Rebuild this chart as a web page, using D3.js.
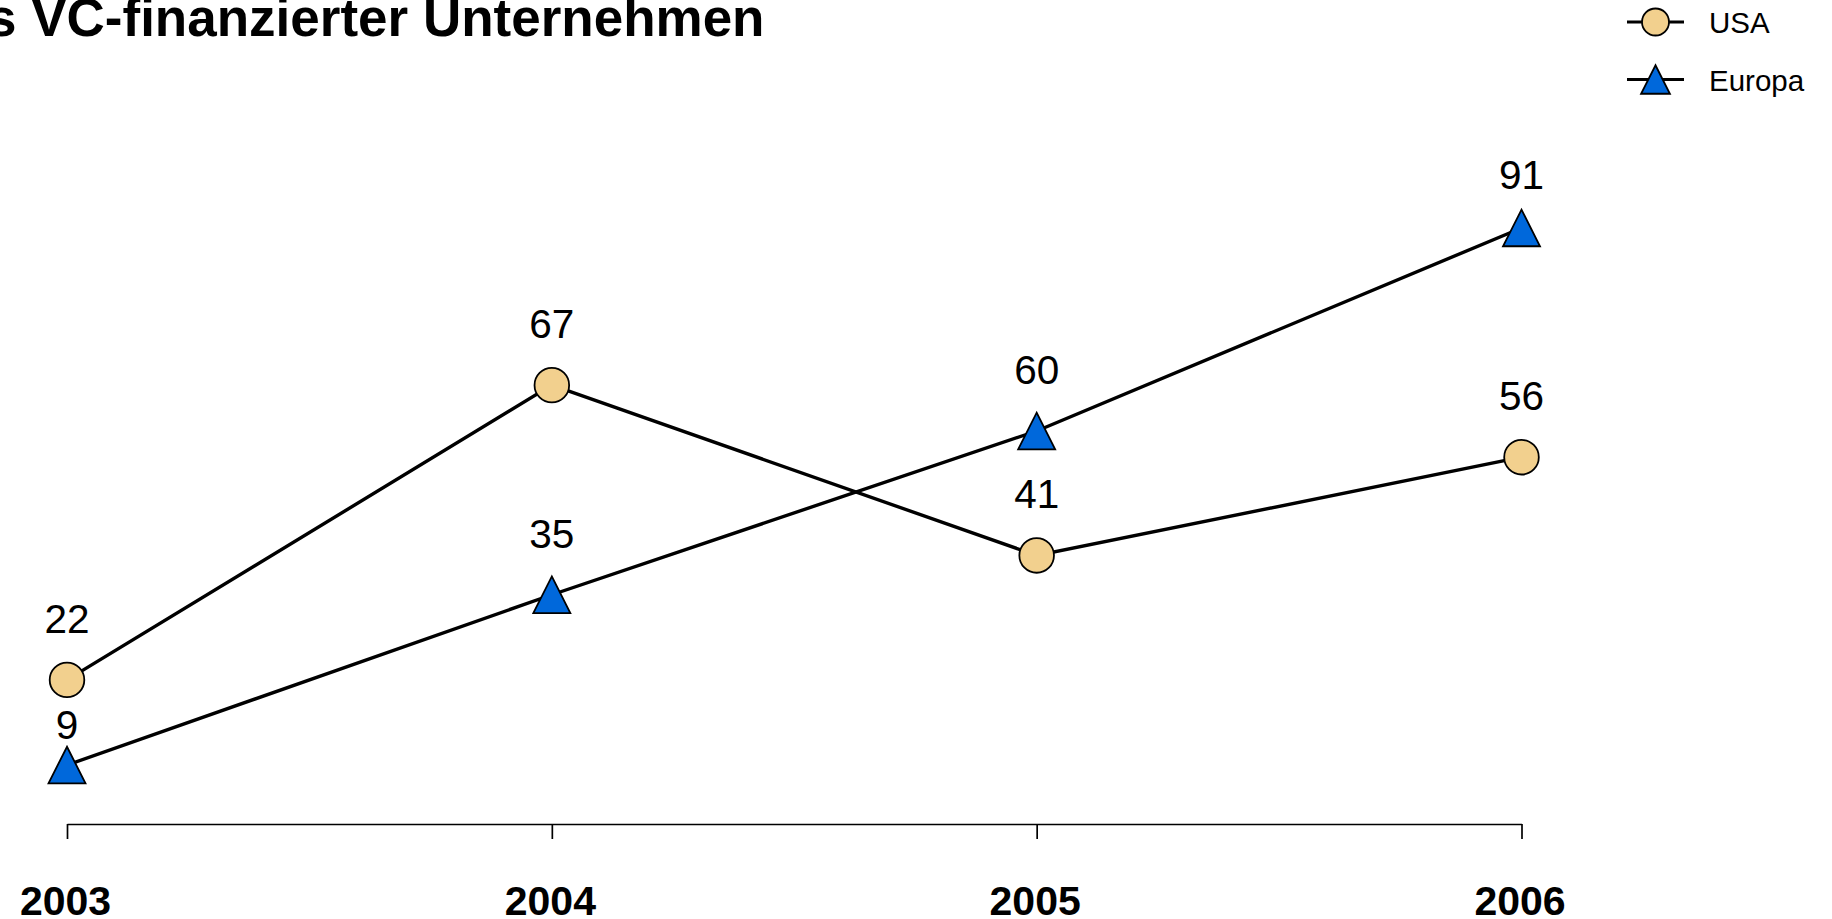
<!DOCTYPE html>
<html>
<head>
<meta charset="utf-8">
<script src="https://cdn.jsdelivr.net/npm/d3@7"></script>
<style>
  html, body { margin: 0; padding: 0; background: #ffffff; }
  svg { display: block; font-family: "Liberation Sans", Arial, Helvetica, sans-serif; }
</style>
</head>
<body>
<svg id="chart" width="1832" height="919"></svg>
<script>
// Data
const years = ["2003", "2004", "2005", "2006"];
const usaValues = [22, 67, 41, 56];
const europaValues = [9, 35, 60, 91];
const seriesNames = ["USA", "Europa"];
const titleText = "s VC-finanzierter Unternehmen";

// Styling
const fills = { USA: "#F2D08E", Europa: "#0068DB" };
const shapes = { USA: "circle", Europa: "triangle" };

const svg = d3.select("#chart");

const x = d3.scalePoint().domain(years).range([67, 1521.5]);
const y = d3.scaleLinear().domain([0, 100]).range([824, 169]);

const series = [
  { name: "USA", values: usaValues },
  { name: "Europa", values: europaValues }
];

// Title (runs off the left edge)
svg.append("text")
  .attr("x", -13)
  .attr("y", 36)
  .attr("font-size", 53)
  .attr("font-weight", "bold")
  .attr("fill", "#000")
  .text(titleText);

// Bottom axis
const axisG = svg.append("g")
  .attr("transform", `translate(0,${y(0)})`)
  .call(d3.axisBottom(x).tickSize(15).tickSizeOuter(0));
axisG.select(".domain").attr("stroke", "#000").attr("stroke-width", 1.7);
axisG.selectAll(".tick line").attr("stroke", "#000").attr("stroke-width", 1.7);
axisG.selectAll(".tick text")
  .attr("dy", null)
  .attr("y", 915 - y(0))
  .attr("dx", -2)
  .attr("font-size", 41)
  .attr("font-weight", "bold")
  .attr("font-family", "Liberation Sans, Arial, sans-serif")
  .attr("fill", "#000");

// Marker drawing helpers
const CIRCLE_R = 17.3;
const TRI_HW = 18.5, TRI_HH = 18.3;
function triPath(hw, hh) {
  return `M0,${-hh}L${hw},${hh}L${-hw},${hh}Z`;
}
function drawMarker(g, shape, cx, cy, scale, fill) {
  if (shape === "circle") {
    g.append("circle")
      .attr("cx", cx).attr("cy", cy).attr("r", CIRCLE_R * scale)
      .attr("fill", fill).attr("stroke", "#000").attr("stroke-width", 1.8);
  } else {
    g.append("path")
      .attr("d", triPath(TRI_HW * scale, TRI_HH * scale))
      .attr("transform", `translate(${cx},${cy})`)
      .attr("fill", fill).attr("stroke", "#000").attr("stroke-width", 1.8)
      .attr("stroke-linejoin", "miter");
  }
}

// Lines
const line = d3.line().x((d, i) => x(years[i])).y(d => y(d));
series.forEach(s => {
  svg.append("path")
    .datum(s.values)
    .attr("d", line)
    .attr("fill", "none")
    .attr("stroke", "#000")
    .attr("stroke-width", 3.4);
});

// Markers
const markersG = svg.append("g");
series.forEach(s => {
  s.values.forEach((v, i) => {
    drawMarker(markersG, shapes[s.name], x(years[i]), y(v), 1, fills[s.name]);
  });
});

// Value labels: placed above each point, kept inside the panel and
// moved below any other series' marker they would collide with.
const LABEL_SIZE = 40.5, LABEL_HALF = 14, LABEL_OFFSET = 61.5, LABEL_GAP = 13;
const PANEL_TOP_CENTER = 175;
const labelsG = svg.append("g");
series.forEach((s, si) => {
  s.values.forEach((v, i) => {
    const px = x(years[i]);
    let cy = y(v) - LABEL_OFFSET;
    cy = Math.max(cy, PANEL_TOP_CENTER);
    series.forEach((o, oi) => {
      if (oi === si) return;
      const oy = y(o.values[i]);
      const oHalf = shapes[o.name] === "circle" ? CIRCLE_R : TRI_HH;
      const top = oy - oHalf, bottom = oy + oHalf;
      if (cy + LABEL_HALF > top && cy - LABEL_HALF < bottom) {
        cy = bottom + LABEL_GAP + LABEL_HALF;
      }
    });
    labelsG.append("text")
      .attr("x", px)
      .attr("y", cy + 0.358 * LABEL_SIZE)
      .attr("text-anchor", "middle")
      .attr("font-size", LABEL_SIZE)
      .attr("fill", "#000")
      .text(v);
  });
});

// Legend
const legendG = svg.append("g");
seriesNames.forEach((name, i) => {
  const cy = 22 + i * 57.5;
  legendG.append("line")
    .attr("x1", 1627).attr("x2", 1684)
    .attr("y1", cy).attr("y2", cy)
    .attr("stroke", "#000").attr("stroke-width", 3.2);
  drawMarker(legendG, shapes[name], 1655.5, cy, 0.78, fills[name]);
  legendG.append("text")
    .attr("x", 1709)
    .attr("y", cy + 11)
    .attr("font-size", 29.5)
    .attr("fill", "#000")
    .text(name);
});
</script>
</body>
</html>
